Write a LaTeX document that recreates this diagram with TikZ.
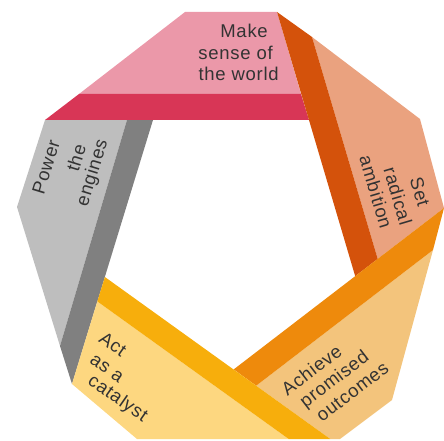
\documentclass[tikz,border=0pt]{standalone}
\usepackage{fontspec}
\setmainfont{Liberation Sans}[LetterSpace=4]
\definecolor{pinkL}{HTML}{EB98A9}
\definecolor{pinkD}{HTML}{D83656}
\definecolor{orangeD}{HTML}{D4520B}
\definecolor{salmon}{HTML}{EAA27F}
\definecolor{amber}{HTML}{EE8A0C}
\definecolor{tan}{HTML}{F3C47C}
\definecolor{yellowD}{HTML}{F7AE0C}
\definecolor{yellowL}{HTML}{FDD780}
\definecolor{grayD}{HTML}{808080}
\definecolor{grayL}{HTML}{BEBEBE}
\definecolor{txt}{HTML}{333333}
\begin{document}
\begin{tikzpicture}[x=1pt,y=1pt,
  lbl/.style={font=\fontsize{18.5}{21}\selectfont, text=txt, inner sep=0pt}]
\useasboundingbox (0,0) rectangle (444,-441);
% key points (image coordinates, y downwards)
\coordinate (A) at (185,-12);
\coordinate (B) at (277,-12);
\coordinate (C) at (301,-94);
\coordinate (D) at (79,-94);
\coordinate (E) at (309,-120);
\coordinate (F) at (45,-120);
\coordinate (G) at (312,-37);
\coordinate (J) at (420,-119);
\coordinate (P) at (444,-208);
\coordinate (H) at (377.7,-258.9);
\coordinate (I) at (355.2,-276.2);
\coordinate (K) at (433,-250);
\coordinate (Qp) at (233.7,-369.4);
\coordinate (L) at (256.2,-385.7);
\coordinate (R) at (392,-400);
\coordinate (Rb) at (340,-439);
\coordinate (S) at (330.3,-439);
\coordinate (T1) at (104.9,-277);
\coordinate (T2) at (97.3,-301.4);
\coordinate (U) at (288.7,-439);
\coordinate (V) at (137,-439);
\coordinate (W) at (72,-384);
\coordinate (X) at (60,-346);
\coordinate (Y1) at (127,-120);
\coordinate (Y2) at (153,-120);
\coordinate (O) at (17,-207);
% Power the engines
\fill[grayL] (F) -- (Y1) -- (X) -- (O) -- cycle;
\fill[grayD] (Y1) -- (Y2) -- (W) -- (X) -- cycle;
% Make sense of the world
\fill[pinkL] (A) -- (B) -- (C) -- (D) -- cycle;
\fill[pinkD] (D) -- (C) -- (E) -- (F) -- cycle;
% Set radical ambition
\fill[salmon] (G) -- (J) -- (P) -- (H) -- cycle;
\fill[orangeD] (B) -- (G) -- (H) -- (I) -- cycle;
% Achieve promised outcomes
\fill[tan] (L) -- (K) -- (R) -- (Rb) -- (S) -- cycle;
\fill[amber] (P) -- (K) -- (L) -- (Qp) -- cycle;
% Act as a catalyst
\fill[yellowL] (T2) -- (U) -- (V) -- (W) -- cycle;
\fill[yellowD] (T1) -- (S) -- (U) -- (T2) -- cycle;
% labels
\node[lbl, anchor=base east] (make1) at (268,-38) {Make};
\node[lbl, anchor=base east] (make2) at (273,-60) {sense of};
\node[lbl, anchor=base east] (make3) at (279,-81) {the world};
\node[lbl, rotate=73] (power1) at (46,-167) {Power};
\node[lbl, rotate=73] (power2) at (76,-158) {the};
\node[lbl, rotate=73] (power3) at (93,-173) {engines};
\node[lbl, rotate=-73.5] (set1) at (420,-192) {Set};
\node[lbl, rotate=-73.5] (set2) at (398,-196) {radical};
\node[lbl, rotate=-73.5] (set3) at (376,-192) {ambition};
\node[lbl, rotate=-35] (act1) at (113,-344) {Act};
\node[lbl, rotate=-35] (act2) at (106.5,-369) {as a};
\node[lbl, rotate=-35] (act3) at (117.5,-399) {catalyst};
\node[lbl, rotate=37.5] (ach1) at (311.5,-370) {Achieve};
\node[lbl, rotate=37.5] (ach2) at (335,-380) {promised};
\node[lbl, rotate=37.5] (ach3) at (352.5,-392) {outcomes};
\end{tikzpicture}
\end{document}
